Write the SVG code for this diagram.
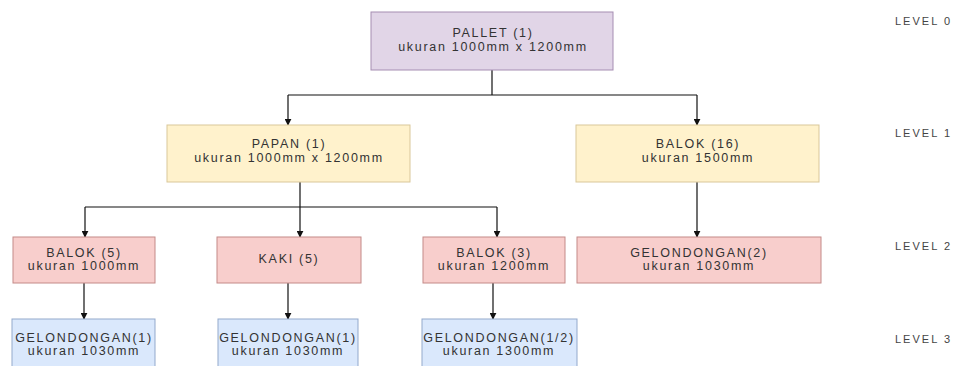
<svg xmlns="http://www.w3.org/2000/svg" width="955" height="366" viewBox="0 0 955 366">
<style>
.t{font-family:"Liberation Sans",Arial,sans-serif;font-size:12.5px;letter-spacing:1.7px;fill:#333;text-anchor:middle}
.lv{font-family:"Liberation Sans",Arial,sans-serif;font-size:11px;letter-spacing:2px;fill:#444}
.p{fill:#e1d5e7;stroke:#a58db2;stroke-width:1}
.y{fill:#fff2cc;stroke:#d9c79a;stroke-width:1}
.r{fill:#f8cecc;stroke:#c48a88;stroke-width:1}
.b{fill:#dae8fc;stroke:#93a9cc;stroke-width:1}
.c{fill:none;stroke:#111;stroke-width:1.2}
</style>
<defs>
<marker id="ah" viewBox="0 0 10 10" refX="9" refY="5" markerWidth="7" markerHeight="7" orient="auto" markerUnits="userSpaceOnUse">
<path d="M0,0 L10,5 L0,10 Z" fill="#111"/>
</marker>
</defs>
<rect width="955" height="366" fill="#fff"/>
<g id="connectors">
<path class="c" d="M492,70 V95"/>
<path class="c" d="M288,95 H697"/>
<path class="c" d="M288,95 V125" marker-end="url(#ah)"/>
<path class="c" d="M697,95 V125" marker-end="url(#ah)"/>
<path class="c" d="M300,182 V207"/>
<path class="c" d="M85,207 H497"/>
<path class="c" d="M85,207 V237" marker-end="url(#ah)"/>
<path class="c" d="M300,207 V237" marker-end="url(#ah)"/>
<path class="c" d="M497,207 V237" marker-end="url(#ah)"/>
<path class="c" d="M697,182 V237" marker-end="url(#ah)"/>
<path class="c" d="M84,283 V319" marker-end="url(#ah)"/>
<path class="c" d="M288,283 V319" marker-end="url(#ah)"/>
<path class="c" d="M493,283 V319" marker-end="url(#ah)"/>
</g>
<g id="pallet">
<rect class="p" x="371" y="12" width="242" height="58"/>
<text class="t" x="493" y="37">PALLET (1)</text>
<text class="t" x="493" y="51">ukuran 1000mm x 1200mm</text>
</g>
<g id="papan">
<rect class="y" x="167" y="125" width="243" height="57"/>
<text class="t" x="289" y="148">PAPAN (1)</text>
<text class="t" x="289" y="162">ukuran 1000mm x 1200mm</text>
</g>
<g id="balok16">
<rect class="y" x="576" y="125" width="243" height="57"/>
<text class="t" x="698" y="148">BALOK (16)</text>
<text class="t" x="698" y="162">ukuran 1500mm</text>
</g>
<g id="balok5">
<rect class="r" x="13" y="237" width="142" height="46"/>
<text class="t" x="84" y="257">BALOK (5)</text>
<text class="t" x="84" y="270">ukuran 1000mm</text>
</g>
<g id="kaki">
<rect class="r" x="217" y="237" width="144" height="46"/>
<text class="t" x="289" y="263">KAKI (5)</text>
</g>
<g id="balok3">
<rect class="r" x="423" y="237" width="142" height="46"/>
<text class="t" x="494" y="257">BALOK (3)</text>
<text class="t" x="494" y="270">ukuran 1200mm</text>
</g>
<g id="gelondongan2">
<rect class="r" x="577" y="237" width="244" height="46"/>
<text class="t" x="699" y="257">GELONDONGAN(2)</text>
<text class="t" x="699" y="270">ukuran 1030mm</text>
</g>
<g id="gel1a">
<rect class="b" x="12" y="319" width="143" height="50"/>
<text class="t" x="84" y="342">GELONDONGAN(1)</text>
<text class="t" x="84" y="355">ukuran 1030mm</text>
</g>
<g id="gel1b">
<rect class="b" x="218" y="319" width="140" height="50"/>
<text class="t" x="288" y="342">GELONDONGAN(1)</text>
<text class="t" x="288" y="355">ukuran 1030mm</text>
</g>
<g id="gel12">
<rect class="b" x="422" y="319" width="155" height="50"/>
<text class="t" x="499" y="342">GELONDONGAN(1/2)</text>
<text class="t" x="499" y="355">ukuran 1300mm</text>
</g>
<g id="levels">
<text class="lv" x="895" y="25">LEVEL 0</text>
<text class="lv" x="895" y="137">LEVEL 1</text>
<text class="lv" x="895" y="250">LEVEL 2</text>
<text class="lv" x="895" y="343">LEVEL 3</text>
</g>
</svg>
